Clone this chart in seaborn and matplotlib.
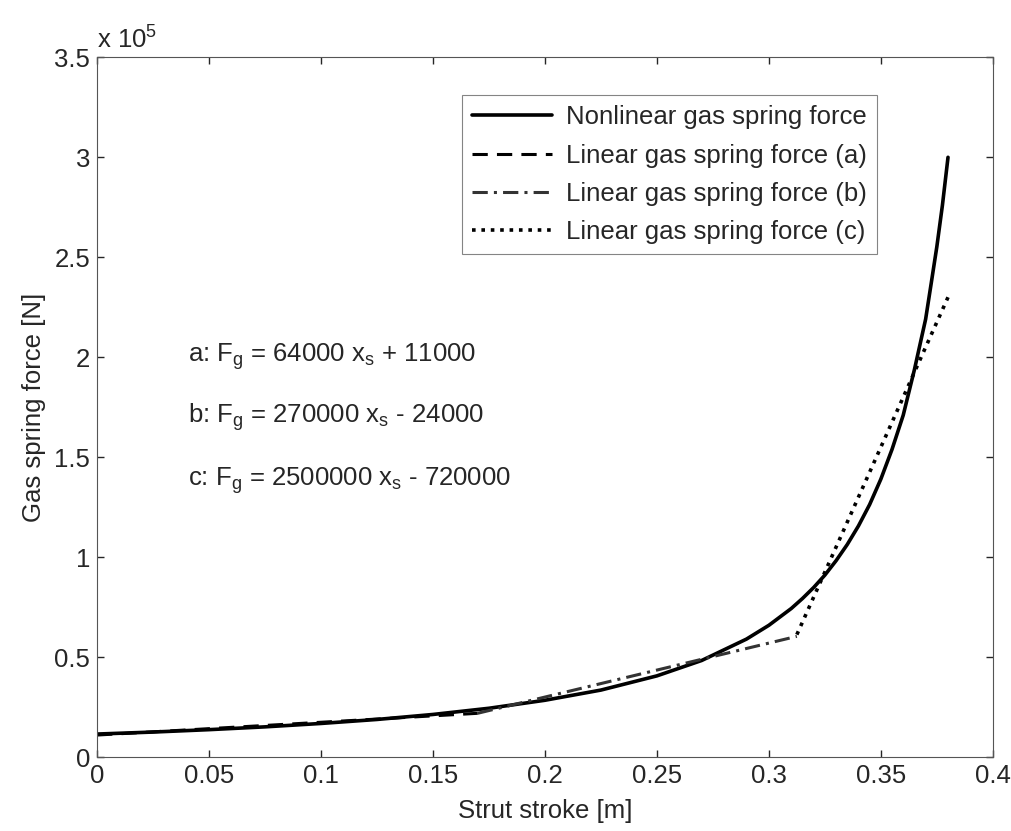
import numpy as np
import pandas as pd
import matplotlib
matplotlib.use("Agg")
import matplotlib.pyplot as plt
from matplotlib.ticker import FuncFormatter, MultipleLocator
import seaborn as sns

# nonlinear gas spring force
stroke = [0.0, 0.025, 0.05, 0.075, 0.1, 0.125, 0.15, 0.175, 0.2, 0.225, 0.25,
          0.27, 0.29, 0.30, 0.31, 0.315, 0.32, 0.325, 0.33, 0.335, 0.34, 0.345, 0.35,
          0.355, 0.36, 0.365, 0.37, 0.3725, 0.375, 0.3775, 0.38]
force = [11500, 12500, 13700, 15100, 16800, 18800, 21300, 24400, 28400, 33500, 40600,
         48300, 59000, 65900, 74300, 79300, 84800, 91000, 98200, 106300, 115600, 126300,
         139000, 153900, 171000, 193800, 219000, 237000, 255200, 276000, 300000]

# linear approximations (segment end points)
xa = [0.0, 0.17]
fa = [11000, 21880]
xb = [0.17, 0.3125]
fb = [21900, 60375]
xc = [0.3125, 0.38]
fc = [61250, 230000]

labels = ["Nonlinear gas spring force", "Linear gas spring force (a)",
          "Linear gas spring force (b)", "Linear gas spring force (c)"]
eqs = ["a: F$_g$ = 64000 x$_s$ + 11000",
       "b: F$_g$ = 270000 x$_s$ - 24000",
       "c: F$_g$ = 2500000 x$_s$ - 720000"]

FS = 18.5

sns.set_theme(style="ticks")
plt.rcParams['font.family'] = ['Liberation Sans', 'DejaVu Sans']
plt.rcParams['mathtext.fontset'] = 'custom'
plt.rcParams['mathtext.rm'] = 'Liberation Sans'
plt.rcParams['mathtext.it'] = 'Liberation Sans'
plt.rcParams['mathtext.default'] = 'regular'

fig = plt.figure(figsize=(10.11, 8.31), dpi=100)
ax = fig.add_axes([0.096, 0.089, 0.886, 0.842])

sns.lineplot(x=stroke, y=force, color='black', lw=2.6, label=labels[0], ax=ax)
sns.lineplot(x=xa, y=fa, color='black', lw=2.2, linestyle=(0, (5, 3)), label=labels[1], ax=ax)
sns.lineplot(x=xb, y=fb, color='#333333', lw=2.2, linestyle=(0, (5, 2, 1, 2)), label=labels[2], ax=ax)
sns.lineplot(x=xc, y=fc, color='black', lw=2.6, linestyle=(0, (1, 1.6)), label=labels[3], ax=ax)

ax.set_xlim(0, 0.4)
ax.set_ylim(0, 3.5e5)
ax.xaxis.set_major_locator(MultipleLocator(0.05))
ax.yaxis.set_major_locator(MultipleLocator(0.5e5))
ax.xaxis.set_major_formatter(FuncFormatter(lambda v, p: '%g' % round(v, 3)))
ax.yaxis.set_major_formatter(FuncFormatter(lambda v, p: '%g' % round(v / 1e5, 2)))
ax.tick_params(direction='in', length=5, width=1, labelsize=FS, top=True, right=True, pad=5)
for s in ax.spines.values():
    s.set_linewidth(0.8)
    s.set_color('#555555')

ax.set_xlabel("Strut stroke [m]", fontsize=FS, labelpad=8)
ax.set_ylabel("Gas spring force [N]", fontsize=FS, labelpad=6)
ax.text(0.0, 1.005, "x 10$^5$", transform=ax.transAxes, fontsize=FS, ha='left', va='bottom')

for e, yv in zip(eqs, [1.975e5, 1.67e5, 1.355e5]):
    ax.text(0.0405, yv, e, fontsize=FS, ha='left', va='baseline')

leg = ax.legend(loc='upper left', bbox_to_anchor=(0.407, 0.946), fontsize=FS, frameon=True,
                fancybox=False, edgecolor='#666666', handlelength=3.1, handletextpad=0.55,
                labelspacing=0.55, borderpad=0.4, borderaxespad=0)
leg.get_frame().set_linewidth(0.8)

fig.savefig("out.png", dpi=100)
